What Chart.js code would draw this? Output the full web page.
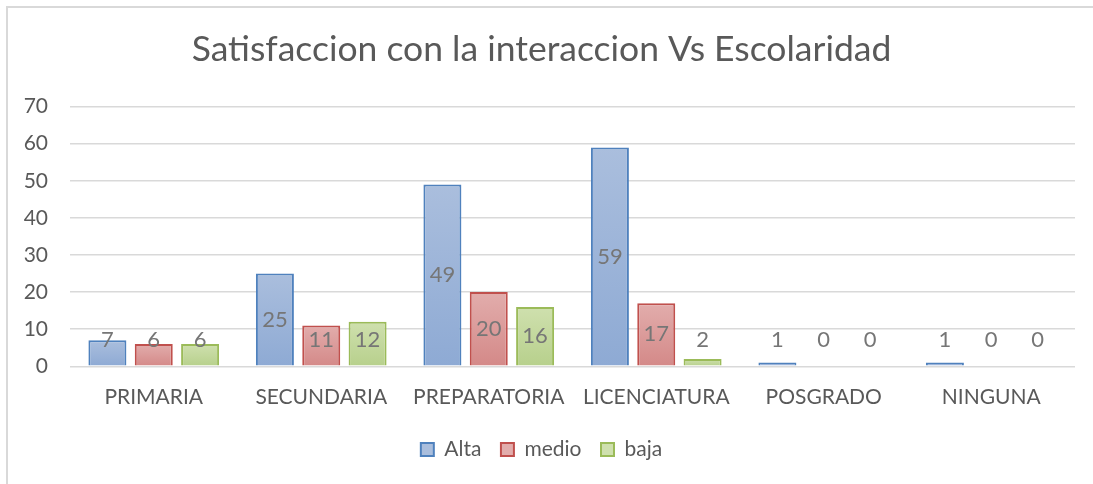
<!DOCTYPE html>
<html>
<head>
<meta charset="utf-8">
<script src="https://cdn.jsdelivr.net/npm/chart.js@4.4.0/dist/chart.umd.min.js"></script>
<style>
  html, body { margin: 0; padding: 0; background: #fff; overflow: hidden; }
  canvas { display: block; }
</style>
</head>
<body>
<canvas id="myChart" width="1093" height="484"></canvas>
<script>
const categories = ['PRIMARIA', 'SECUNDARIA', 'PREPARATORIA', 'LICENCIATURA', 'POSGRADO', 'NINGUNA']
const alta = [7, 25, 49, 59, 1, 1]
const medio = [6, 11, 20, 17, 0, 0]
const baja = [6, 12, 16, 2, 0, 0]
const yTicks = [0, 10, 20, 30, 40, 50, 60, 70]

const fontName = 'Lato, "Open Sans", sans-serif'
const textGray = '#595959'

// top / bottom colours of each bar gradient, plus border
const colors = {
    Alta: { top: '#aabedd', bottom: '#8eaad4', line: '#4f81bd' },
    medio: { top: '#e2adac', bottom: '#d48988', line: '#c0504d' },
    baja: { top: '#cfe0ae', bottom: '#b7d08c', line: '#9bbb59' }
}

function barFill(name) {
    return (ctx) => {
        const c = colors[name]
        const y = ctx.chart.scales && ctx.chart.scales.y
        if (!y || ctx.raw === undefined) return c.bottom
        const top = y.getPixelForValue(ctx.raw)
        const base = y.getPixelForValue(0)
        if (base - top < 1) return c.bottom
        const g = ctx.chart.ctx.createLinearGradient(0, top, 0, base)
        g.addColorStop(0, c.top)
        g.addColorStop(1, c.bottom)
        return g
    }
}

const makeDataset = (name, values) => ({
    label: name,
    data: values,
    backgroundColor: barFill(name),
    borderColor: colors[name].line,
    borderWidth: (ctx) => ctx.raw === 0 ? 0 : 2,
    borderSkipped: 'bottom',
    categoryPercentage: 0.83,
    barPercentage: 0.82
})

const frame = {
    id: 'frame',
    beforeDraw(chart) {
        const c = chart.ctx
        c.save()
        c.fillStyle = '#fff'
        c.fillRect(0, 0, chart.width, chart.height)
        c.strokeStyle = '#d9d9d9'
        c.lineWidth = 2
        c.strokeRect(7, 7, chart.width + 50, chart.height + 50)
        c.restore()
    }
}

const valueLabels = {
    id: 'valueLabels',
    afterDatasetsDraw(chart) {
        const c = chart.ctx
        c.save()
        c.font = '22px ' + fontName
        c.fillStyle = '#767676'
        c.textAlign = 'center'
        c.textBaseline = 'middle'
        chart.data.datasets.forEach((ds, i) => {
            chart.getDatasetMeta(i).data.forEach((bar, j) => {
                const mid = (bar.y + bar.base) / 2
                const y = Math.min(mid, bar.base - 26)
                c.fillText(String(ds.data[j]), bar.x, y)
            })
        })
        c.restore()
    }
}

const config = {
    type: 'bar',
    data: {
        labels: categories,
        datasets: [
            makeDataset('Alta', alta),
            makeDataset('medio', medio),
            makeDataset('baja', baja)
        ]
    },
    options: {
        responsive: false,
        animation: false,
        layout: { padding: { left: 8, right: 18, top: 28, bottom: 14 } },
        plugins: {
            title: {
                display: true,
                text: 'Satisfaccion con la interaccion Vs Escolaridad',
                color: textGray,
                font: { family: fontName, size: 35.5, weight: 'normal' },
                padding: { top: 0, bottom: 36 }
            },
            legend: {
                position: 'bottom',
                labels: {
                    color: textGray,
                    font: { family: fontName, size: 21 },
                    boxWidth: 13,
                    boxHeight: 13,
                    padding: 19.5,
                    generateLabels: (chart) => chart.data.datasets.map((ds, i) => ({
                        text: ds.label,
                        fillStyle: colors[ds.label].top,
                        strokeStyle: colors[ds.label].line,
                        lineWidth: 2,
                        fontColor: textGray,
                        datasetIndex: i,
                        hidden: false
                    }))
                }
            },
            tooltip: { enabled: false }
        },
        scales: {
            x: {
                grid: { display: false },
                border: { display: false },
                ticks: { color: textGray, font: { family: fontName, size: 21 }, padding: 10 }
            },
            y: {
                min: 0,
                max: 70,
                afterBuildTicks: (scale) => { scale.ticks = yTicks.map(v => ({ value: v })) },
                afterFit: (scale) => { scale.width = 62 },
                grid: { color: '#d9d9d9', lineWidth: 1.5, drawTicks: false },
                border: { display: false },
                ticks: { color: textGray, font: { family: fontName, size: 21 }, padding: 22 }
            }
        }
    },
    plugins: [frame, valueLabels]
}

const myChart = new Chart(document.getElementById('myChart'), config)
</script>
</body>
</html>
